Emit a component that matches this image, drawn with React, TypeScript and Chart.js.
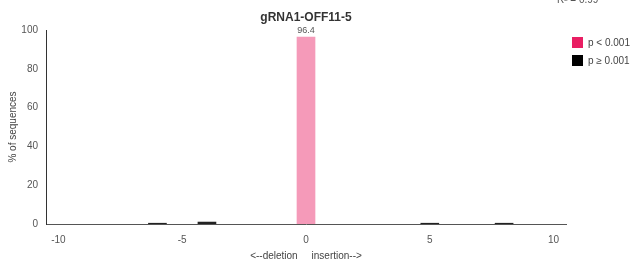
import React, { useEffect, useRef } from "react";
import { Chart, registerables } from "chart.js";

Chart.register(...registerables);

const TITLE = "gRNA1-OFF11-5";
const R2_TEXT = "R\u00B2 = 0.99";
const X_TICKS = [-10, -5, 0, 5, 10];
const Y_TICKS = [0, 20, 40, 60, 80, 100];
const SIG_POS = [0];
const SIG_VAL = [96.4];
const NONSIG_POS = [-6, -4, 5, 8];
const NONSIG_VAL = [0.4, 1.0, 0.4, 0.4];
const LEGEND_LABELS = ["p < 0.001", "p \u2265 0.001"];
const LEGEND_COLORS = ["#e91e63", "#000000"];
const X_TITLE = "<--deletion     insertion-->";
const Y_TITLE = "% of sequences";

const FONT = "Arial, 'Liberation Sans', sans-serif";

const overlay = {
  id: "overlay",
  afterDatasetsDraw(chart: any) {
    const ctx = chart.ctx;
    const ca = chart.chartArea;
    ctx.save();
    // title
    ctx.fillStyle = "#333";
    ctx.font = `bold 12px ${FONT}`;
    ctx.textAlign = "center";
    ctx.textBaseline = "middle";
    ctx.fillText(TITLE, (ca.left + ca.right) / 2, 18);
    // R2
    ctx.font = `10px ${FONT}`;
    ctx.fillStyle = "#555";
    ctx.textAlign = "left";
    ctx.textBaseline = "alphabetic";
    ctx.fillText(R2_TEXT, 557, 3);
    // value labels on significant bars
    const meta = chart.getDatasetMeta(0);
    ctx.font = `9px ${FONT}`;
    ctx.fillStyle = "#555";
    ctx.textAlign = "center";
    ctx.textBaseline = "bottom";
    meta.data.forEach((bar: any, i: number) => {
      ctx.fillText(String(SIG_VAL[i]), bar.x, bar.y - 2);
    });
    // legend
    ctx.font = `10px ${FONT}`;
    ctx.textAlign = "left";
    ctx.textBaseline = "middle";
    LEGEND_LABELS.forEach((lab, i) => {
      const y = 37 + i * 18;
      ctx.fillStyle = LEGEND_COLORS[i];
      ctx.fillRect(572, y, 11, 11);
      ctx.fillStyle = "#444";
      ctx.fillText(lab, 588, y + 6);
    });
    // axis titles
    ctx.font = `10px ${FONT}`;
    ctx.fillStyle = "#444";
    ctx.textAlign = "center";
    ctx.textBaseline = "middle";
    ctx.fillText(X_TITLE, (ca.left + ca.right) / 2, 256);
    ctx.translate(13, (ca.top + ca.bottom) / 2);
    ctx.rotate(-Math.PI / 2);
    ctx.fillText(Y_TITLE, 0, 0);
    ctx.restore();
  },
};

export default function App() {
  const ref = useRef<HTMLCanvasElement | null>(null);
  useEffect(() => {
    if (!ref.current) return;
    const chart = new Chart(ref.current, {
      type: "bar",
      data: {
        datasets: [
          {
            label: LEGEND_LABELS[0],
            data: SIG_POS.map((x, i) => ({ x, y: SIG_VAL[i] })),
            backgroundColor: "rgba(233,30,99,0.45)",
            borderWidth: 0,
            barThickness: 18,
            grouped: false,
          } as any,
          {
            label: LEGEND_LABELS[1],
            data: NONSIG_POS.map((x, i) => ({ x, y: NONSIG_VAL[i] })),
            backgroundColor: "#222",
            borderWidth: 0,
            barThickness: 18,
            grouped: false,
          } as any,
        ],
      },
      options: {
        animation: false,
        responsive: true,
        maintainAspectRatio: false,
        layout: { padding: { top: 30, right: 66, left: 0, bottom: 0 } },
        plugins: {
          legend: { display: false },
          title: { display: false },
          tooltip: { enabled: false },
        },
        scales: {
          x: {
            type: "linear",
            offset: false,
            min: -10.5,
            max: 10.5,
            grid: { display: false, drawTicks: false, offset: false },
            border: { color: "#555", width: 1 },
            ticks: { font: { size: 10, family: FONT }, color: "#555", padding: 10 },
            afterBuildTicks: (s: any) => {
              s.ticks = X_TICKS.map((v) => ({ value: v }));
            },
            afterFit: (s: any) => {
              s.height = 43;
            },
          },
          y: {
            min: 0,
            max: 100,
            grid: { display: false, drawTicks: false },
            border: { color: "#333", width: 1 },
            ticks: { font: { size: 10, family: FONT }, color: "#555", padding: 8 },
            afterBuildTicks: (s: any) => {
              s.ticks = Y_TICKS.map((v) => ({ value: v }));
            },
            afterFit: (s: any) => {
              s.width = 46;
            },
          },
        },
      } as any,
      plugins: [overlay],
    });
    return () => chart.destroy();
  }, []);
  return (
    <div style={{ position: "absolute", left: 0, top: 0, width: 632, height: 267, background: "#fff" }}>
      <canvas ref={ref} />
    </div>
  );
}
